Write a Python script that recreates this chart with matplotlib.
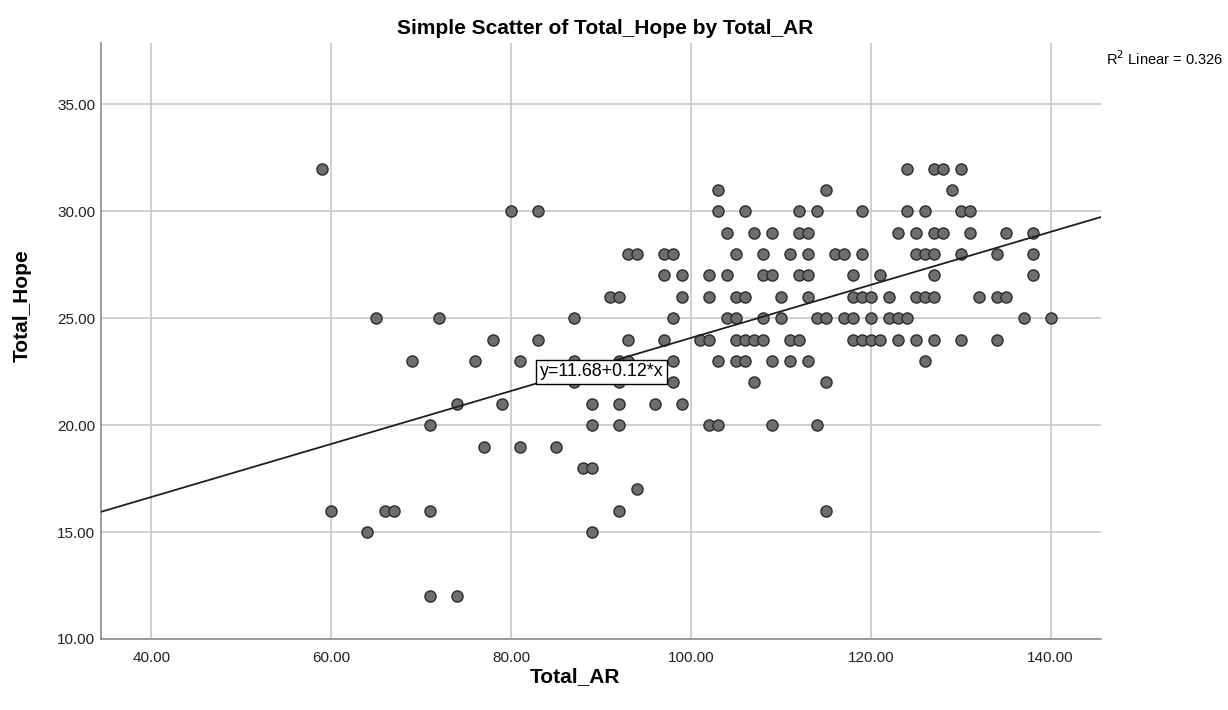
import matplotlib.pyplot as plt

plt.rcParams['font.family'] = ['Liberation Sans', 'DejaVu Sans']

# Total_Hope score on each row, Total_AR scores of the cases with that score
hope_levels = [32, 31, 30, 29, 28, 27, 26, 25, 24, 23, 22, 21, 20, 19, 18, 17, 16, 15, 12]
ar_by_level = [
    [59, 124, 127, 128, 130],
    [103, 115, 129],
    [80, 83, 103, 106, 112, 114, 119, 124, 126, 130, 131],
    [104, 107, 109, 112, 113, 123, 125, 127, 128, 131, 135, 138],
    [93, 94, 97, 98, 105, 108, 111, 113, 116, 117, 119, 125, 126, 127, 130, 134, 138],
    [97, 99, 102, 104, 108, 109, 112, 113, 118, 121, 127, 138],
    [91, 92, 99, 102, 105, 106, 110, 113, 118, 119, 120, 122, 125, 126, 127, 132, 134, 135],
    [65, 72, 87, 98, 104, 105, 108, 110, 114, 115, 117, 118, 120, 122, 123, 124, 137, 140],
    [78, 83, 93, 97, 101, 102, 105, 106, 107, 108, 111, 112, 118, 119, 120, 121, 123, 125, 127, 130, 134],
    [69, 76, 81, 87, 92, 93, 98, 103, 105, 106, 109, 111, 113, 126],
    [87, 92, 98, 107, 115],
    [74, 79, 89, 92, 96, 99],
    [71, 89, 92, 102, 103, 109, 114],
    [77, 81, 85],
    [88, 89],
    [94],
    [60, 66, 67, 71, 92, 115],
    [64, 89],
    [71, 74],
]

# fit line and r squared
intercept = 11.68
slope = 0.124
r_squared = 0.326

x_ticks = [40, 60, 80, 100, 120, 140]
y_ticks = [10, 15, 20, 25, 30, 35]
x_min, x_max = 34.4, 145.6
y_min, y_max = 10, 37.87

total_ar = []
total_hope = []
for h, ars in zip(hope_levels, ar_by_level):
    for a in ars:
        total_ar.append(a)
        total_hope.append(h)

fig = plt.figure(figsize=(12.28, 7.10), dpi=100)
ax = fig.add_axes([0.0822, 0.1, 0.8144, 0.8394])

ax.set_xlim(x_min, x_max)
ax.set_ylim(y_min, y_max)
ax.set_xticks(x_ticks)
ax.set_yticks(y_ticks)
ax.set_xticklabels(['%.2f' % t for t in x_ticks])
ax.set_yticklabels(['%.2f' % t for t in y_ticks])
ax.tick_params(length=0, labelsize=11, colors='#222222')
ax.tick_params(axis='x', pad=9)
ax.tick_params(axis='y', pad=4)
ax.grid(True, color='#cccccc', linewidth=1.3)
ax.set_axisbelow(True)

for s in ['top', 'right']:
    ax.spines[s].set_visible(False)
for s in ['left', 'bottom']:
    ax.spines[s].set_color('#8c8c8c')
    ax.spines[s].set_linewidth(1.2)

ax.scatter(total_ar, total_hope, s=64, facecolor='#6e6e6e', edgecolor='#2b2b2b',
           linewidth=1.0, zorder=3)

# regression line across the whole axis
ax.plot([x_min, x_max], [intercept + slope * x_min, intercept + slope * x_max],
        color='#1e1e1e', linewidth=1.3, zorder=4)

ax.text(90.05, 22.5, 'y=%.2f+%.2f*x' % (intercept, slope), fontsize=12.9,
        ha='center', va='center', zorder=5,
        bbox=dict(boxstyle='square,pad=0.2', facecolor='white', edgecolor='black', linewidth=1))

fig.text(0.4927, 0.96, 'Simple Scatter of Total_Hope by Total_AR', ha='center', va='center',
         fontsize=15, fontweight='bold')
fig.text(0.468, 0.047, 'Total_AR', ha='center', va='center', fontsize=15, fontweight='bold')
fig.text(0.018, 0.57, 'Total_Hope', ha='center', va='center', rotation=90,
         fontsize=15, fontweight='bold')
fig.text(0.996, 0.917, 'R$^2$ Linear = %.3f' % r_squared, ha='right', va='center', fontsize=10.5)

fig.savefig('out.png', dpi=100)
